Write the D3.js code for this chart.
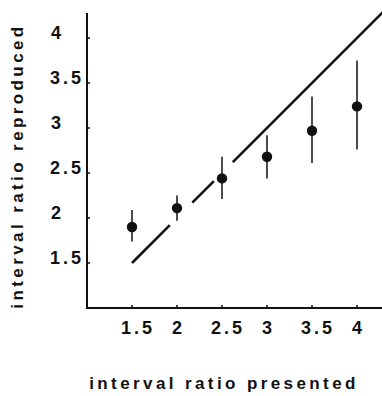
<!DOCTYPE html>
<html>
<head>
<meta charset="utf-8">
<script src="https://cdn.jsdelivr.net/npm/d3@7"></script>
<style>
  body { margin: 0; background: #fff; }
  text { font-family: "Liberation Sans", Arial, sans-serif; font-weight: bold; fill: #111; }
</style>
</head>
<body>
<script>
// interval ratio presented (x) vs reproduced (y)
var presented = [1.5, 2, 2.5, 3, 3.5, 4];
var reproduced = [1.90, 2.11, 2.44, 2.68, 2.97, 3.24];
var barHigh = [2.09, 2.25, 2.68, 2.92, 3.35, 3.75];
var barLow = [1.74, 1.97, 2.21, 2.44, 2.61, 2.76];
var xTicks = [1.5, 2, 2.5, 3, 3.5, 4];
var yTicks = [1.5, 2, 2.5, 3, 3.5, 4];
// identity line, drawn in pieces (broken where it meets the error bars)
var identityPieces = [[1.5, 1.92], [2.17, 2.41], [2.62, 4.29]];

var width = 382, height = 396;
var margin = { top: 13, right: 0, bottom: 88, left: 87 };

var svg = d3.select('body').append('svg')
    .attr('width', width)
    .attr('height', height);

var x = d3.scaleLinear().domain([1, 1 + (width - margin.left) / 90])
    .range([margin.left, width]);
var y = d3.scaleLinear().domain([1, 1 + (height - margin.bottom - margin.top) / 90])
    .range([height - margin.bottom, margin.top]);

var x0 = margin.left, y0 = height - margin.bottom;

// axes
svg.append('line')
    .attr('x1', x0).attr('x2', x0)
    .attr('y1', margin.top).attr('y2', y0 + 1)
    .attr('stroke', '#111').attr('stroke-width', 2);
svg.append('line')
    .attr('x1', x0 - 1).attr('x2', width)
    .attr('y1', y0).attr('y2', y0)
    .attr('stroke', '#111').attr('stroke-width', 2);

// small inward ticks
svg.selectAll('.xt').data(xTicks).enter().append('line')
    .attr('x1', d => x(d)).attr('x2', d => x(d))
    .attr('y1', y0).attr('y2', y0 - 3)
    .attr('stroke', '#111').attr('stroke-width', 1.5);
svg.selectAll('.yt').data(yTicks).enter().append('line')
    .attr('x1', x0).attr('x2', x0 + 3)
    .attr('y1', d => y(d)).attr('y2', d => y(d))
    .attr('stroke', '#111').attr('stroke-width', 1.5);

// tick labels
svg.selectAll('.xl').data(xTicks).enter().append('text')
    .attr('x', d => x(d) + (d % 1 ? 6 : 1.5))
    .attr('y', 334)
    .attr('text-anchor', 'middle')
    .style('font-size', '18px')
    .style('letter-spacing', '3px')
    .text(d => d);
svg.selectAll('.yl').data(yTicks).enter().append('text')
    .attr('x', d => (d % 1 ? 50 : 51))
    .attr('y', d => y(d) + 0.5)
    .attr('text-anchor', 'start')
    .style('font-size', '18px')
    .style('letter-spacing', '3px')
    .text(d => d);

// axis titles
svg.append('text')
    .attr('x', 224).attr('y', 389)
    .attr('text-anchor', 'middle')
    .style('font-size', '17px')
    .style('letter-spacing', '3.4px')
    .text('interval ratio presented');
svg.append('text')
    .attr('transform', 'translate(23,166) rotate(-90)')
    .attr('text-anchor', 'middle')
    .style('font-size', '17px')
    .style('letter-spacing', '3.4px')
    .text('interval ratio reproduced');

// identity line
svg.selectAll('.idl').data(identityPieces).enter().append('line')
    .attr('x1', d => x(d[0])).attr('y1', d => y(d[0]))
    .attr('x2', d => x(d[1])).attr('y2', d => y(d[1]))
    .attr('stroke', '#111').attr('stroke-width', 2.6);

// error bars and means
svg.selectAll('.eb').data(presented).enter().append('line')
    .attr('x1', d => x(d)).attr('x2', d => x(d))
    .attr('y1', (d, i) => y(barHigh[i])).attr('y2', (d, i) => y(barLow[i]))
    .attr('stroke', '#111').attr('stroke-width', 1.5);
svg.selectAll('.pt').data(presented).enter().append('circle')
    .attr('cx', d => x(d)).attr('cy', (d, i) => y(reproduced[i]))
    .attr('r', 5.2)
    .attr('fill', '#111');
</script>
</body>
</html>
